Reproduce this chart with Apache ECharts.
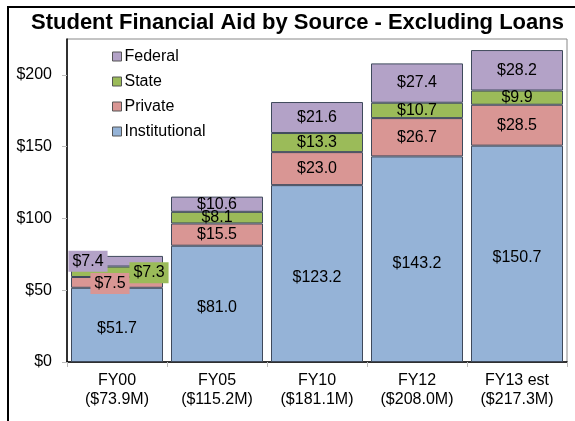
<!DOCTYPE html>
<html>
<head>
<meta charset="utf-8">
<script src="https://cdn.jsdelivr.net/npm/echarts@6/dist/echarts.min.js"></script>
<style>
  html, body { margin: 0; padding: 0; background: #fff; }
  #chartDom { width: 575px; height: 421px; }
</style>
</head>
<body>
<div id="chartDom"></div>
<script>
// data
const categories = ['FY00', 'FY05', 'FY10', 'FY12', 'FY13 est']
const totals = ['$73.9M', '$115.2M', '$181.1M', '$208.0M', '$217.3M']
const institutional = [51.7, 81.0, 123.2, 143.2, 150.7]
const privateAid = [7.5, 15.5, 23.0, 26.7, 28.5]
const stateAid = [7.3, 8.1, 13.3, 10.7, 9.9]
const federal = [7.4, 10.6, 21.6, 27.4, 28.2]

const font = 'Liberation Sans, Arial, sans-serif'
const colors = {
  Institutional: '#95B3D7',
  Private: '#D99694',
  State: '#9BBB59',
  Federal: '#B3A2C7'
}

// FY00 segments are thin, so their labels are pushed aside with a coloured box
function withFirstLabel (values, color, offset) {
  return values.map(function (v, i) {
    if (i !== 0) return v
    return {
      value: v,
      label: {
        offset: offset,
        backgroundColor: color,
        padding: [3, 4, 2, 4]
      }
    }
  })
}

function makeSeries (name, data, labelOffset) {
  return {
    name: name,
    type: 'bar',
    stack: 'total',
    barCategoryGap: '8%',
    data: data,
    itemStyle: {
      color: colors[name],
      borderColor: '#3f4a5c',
      borderWidth: 1
    },
    label: {
      show: true,
      position: 'inside',
      offset: labelOffset || [0, 0],
      color: '#000',
      fontFamily: font,
      fontSize: 16,
      formatter: function (p) {
        return '$' + Number(p.value).toFixed(1)
      }
    }
  }
}

const chart = echarts.init(document.getElementById('chartDom'))
const option = {
  animation: false,
  backgroundColor: '#fff',
  title: {
    text: 'Student Financial Aid by Source - Excluding Loans',
    left: 31,
    top: 12,
    padding: 0,
    textStyle: {
      fontFamily: font,
      fontSize: 22,
      fontWeight: 'bold',
      color: '#000'
    }
  },
  graphic: [
    {
      type: 'rect',
      shape: { x: 8, y: 7, width: 700, height: 600 },
      style: { fill: 'none', stroke: '#000', lineWidth: 2 },
      silent: true,
      z: 100
    }
  ],
  legend: {
    orient: 'vertical',
    left: 112,
    top: 48,
    padding: 0,
    itemGap: 8,
    itemWidth: 9,
    itemHeight: 9,
    icon: 'rect',
    data: ['Federal', 'State', 'Private', 'Institutional'],
    itemStyle: { borderColor: '#555', borderWidth: 1 },
    textStyle: {
      fontFamily: font,
      fontSize: 16,
      lineHeight: 17,
      color: '#000',
      padding: [0, 0, 0, -2]
    }
  },
  grid: {
    left: 67,
    right: 8,
    top: 39,
    bottom: 59,
    show: true,
    borderColor: '#888',
    borderWidth: 1
  },
  xAxis: {
    type: 'category',
    data: categories,
    axisLine: { lineStyle: { color: '#000', width: 1.5 } },
    axisTick: {
      show: true,
      length: 5,
      lineStyle: { color: '#bbb' }
    },
    axisLabel: {
      interval: 0,
      margin: 9,
      color: '#000',
      fontFamily: font,
      fontSize: 16,
      lineHeight: 19,
      formatter: function (v, i) {
        return v + '\n(' + totals[i] + ')'
      }
    }
  },
  yAxis: {
    type: 'value',
    min: 0,
    max: 225,
    interval: 50,
    axisLine: { show: true, lineStyle: { color: '#000', width: 1.5 } },
    axisTick: {
      show: true,
      length: 5,
      lineStyle: { color: '#bbb' }
    },
    splitLine: { show: false },
    axisLabel: {
      showMaxLabel: false,
      margin: 15,
      color: '#000',
      fontFamily: font,
      fontSize: 16,
      formatter: function (v) {
        return '$' + v
      }
    }
  },
  series: [
    makeSeries('Institutional', institutional, [0, 4]),
    makeSeries('Private', withFirstLabel(privateAid, colors.Private, [-7, 1])),
    makeSeries('State', withFirstLabel(stateAid, colors.State, [32, 1])),
    makeSeries('Federal', withFirstLabel(federal, colors.Federal, [-29, 0]))
  ]
}
chart.setOption(option)
</script>
</body>
</html>
